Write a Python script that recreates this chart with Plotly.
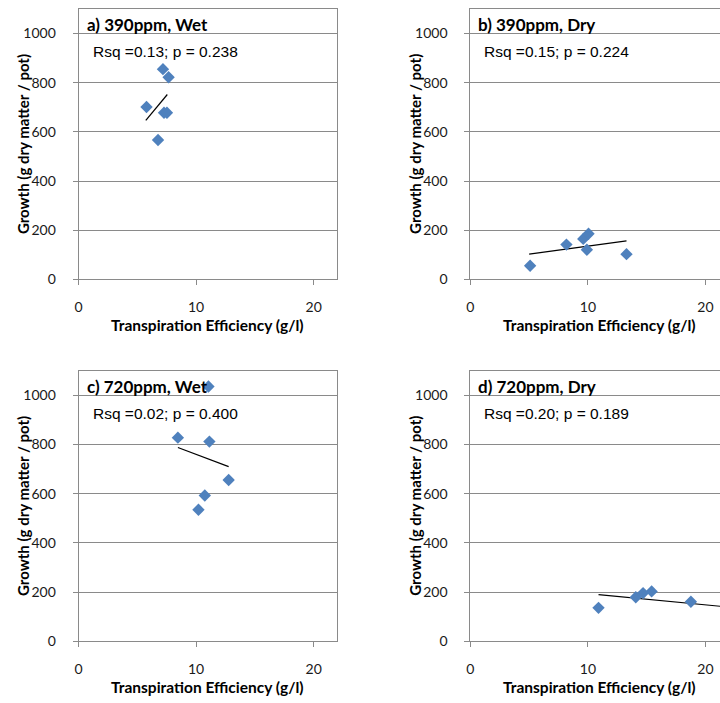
import plotly.graph_objects as go

# ---- data ----
panel_titles = ["a) 390ppm, Wet", "b) 390ppm, Dry", "c) 720ppm, Wet", "d) 720ppm, Dry"]
stats_labels = ["Rsq =0.13; p = 0.238", "Rsq =0.15; p = 0.224",
                "Rsq =0.02; p = 0.400", "Rsq =0.20; p = 0.189"]

a_te = [7.18, 7.66, 5.78, 7.27, 7.52, 6.76]
a_growth = [855, 822, 701, 678, 678, 567]
a_trend_x = [5.72, 7.55]
a_trend_y = [647, 752]

b_te = [5.08, 8.17, 9.6, 10.05, 9.91, 13.28]
b_growth = [56, 142, 165, 186, 121, 103]
b_trend_x = [5.0, 13.28]
b_trend_y = [103, 157]

c_te = [11.05, 8.45, 11.13, 12.77, 10.74, 10.2]
c_growth = [1036, 828, 812, 656, 593, 535]
c_trend_x = [8.45, 12.77]
c_trend_y = [788, 710]

d_te = [10.9, 14.07, 14.69, 15.42, 18.76]
d_growth = [136, 179, 196, 203, 161]
d_trend_x = [10.9, 22.0]
d_trend_y = [190, 139]

x_title = "Transpiration Efficiency (g/l)"
y_title = "Growth (g dry matter / pot)"
y_ticks = [0, 200, 400, 600, 800, 1000]
x_ticks = [0, 10, 20]

W, H = 720, 703
def px(x): return x / W
def py(y): return 1 - y / H

MARKER = "#4F81BD"
GRID = "#8a8a8a"
TICKFONT = dict(family="Lato, Carlito, sans-serif", size=14, color="#1a1a1a")
TITLEFONT = "Lato, Carlito, sans-serif"

# panel pixel geometry: (left, right, top, bottom, x_max, draw right border)
panels = [
    (75, 335, 9, 282.7, 22.0, True),
    (469, 720, 9, 282.7, 251 / 11.82, False),
    (75, 335, 375, 648.7, 22.0, True),
    (469, 720, 375, 648.7, 251 / 11.82, False),
]
series = [
    (a_te, a_growth, a_trend_x, a_trend_y),
    (b_te, b_growth, b_trend_x, b_trend_y),
    (c_te, c_growth, c_trend_x, c_trend_y),
    (d_te, d_growth, d_trend_x, d_trend_y),
]

fig = go.Figure()
annotations = []
layout = {}
for i, ((l, r, t, b, xmax, mirror_y), (xs, ys, tx, ty)) in enumerate(zip(panels, series)):
    n = "" if i == 0 else str(i + 1)
    xa, ya = "x" + n, "y" + n
    fig.add_trace(go.Scatter(x=tx, y=ty, mode="lines", xaxis=xa, yaxis=ya,
                             line=dict(color="black", width=1.2), showlegend=False,
                             cliponaxis=True))
    fig.add_trace(go.Scatter(x=xs, y=ys, mode="markers", xaxis=xa, yaxis=ya,
                             marker=dict(symbol="diamond", size=9.5, color=MARKER,
                                         line=dict(width=0)),
                             showlegend=False))
    layout["xaxis" + n] = dict(
        domain=[px(l), px(r)], range=[0, xmax], anchor=ya,
        tickvals=x_ticks, ticks="outside", ticklen=5, tickcolor=GRID,
        showgrid=False, zeroline=False, showline=True, linecolor=GRID, linewidth=1,
        mirror=True, tickfont=TICKFONT, ticklabelstandoff=10, fixedrange=True)
    layout["yaxis" + n] = dict(
        domain=[py(b), py(t)], range=[0, 1100], anchor=xa,
        tickvals=y_ticks, ticks="outside", ticklen=5, tickcolor=GRID,
        showgrid=True, gridcolor=GRID, gridwidth=1, zeroline=False,
        showline=True, linecolor=GRID, linewidth=1, mirror=mirror_y,
        tickfont=TICKFONT, ticklabelstandoff=14, fixedrange=True)
    # panel title
    annotations.append(dict(x=px(l + 6), y=py(t + 16), xref="paper", yref="paper",
                            text="<b>" + panel_titles[i] + "</b>", showarrow=False,
                            xanchor="left", yanchor="middle",
                            font=dict(family=TITLEFONT, size=17, color="black")))
    # stats label
    annotations.append(dict(x=px(l + 12), y=py(t + 43), xref="paper", yref="paper",
                            text=stats_labels[i], showarrow=False,
                            xanchor="left", yanchor="middle",
                            font=dict(family="Liberation Sans, Arial, sans-serif",
                                      size=15.5, color="black")))
    # axis titles
    cx = l + 130
    annotations.append(dict(x=px(cx), y=py(b + 46), xref="paper", yref="paper",
                            text="<b>" + x_title + "</b>", showarrow=False,
                            xanchor="center", yanchor="middle",
                            font=dict(family=TITLEFONT, size=15.5, color="black")))
    annotations.append(dict(x=px(l - 56), y=py((t + b) / 2), xref="paper", yref="paper",
                            text="<b>" + y_title + "</b>", showarrow=False, textangle=-90,
                            xanchor="center", yanchor="middle",
                            font=dict(family=TITLEFONT, size=15, color="black")))

fig.update_layout(width=W, height=H, margin=dict(l=0, r=0, t=0, b=0),
                  paper_bgcolor="white", plot_bgcolor="white",
                  annotations=annotations, **layout)
fig.write_html("out.html")
